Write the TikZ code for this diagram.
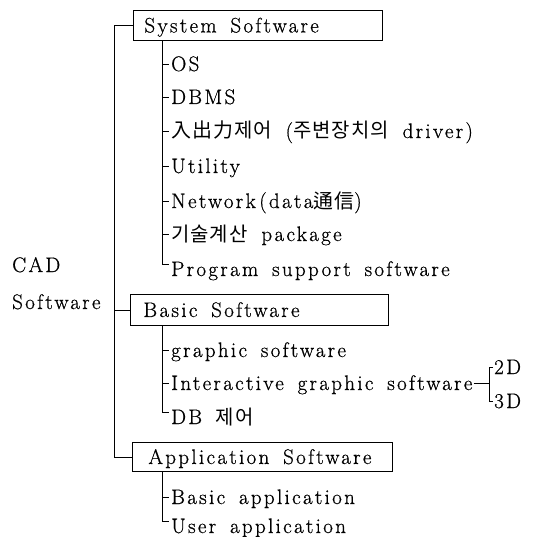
\documentclass[tikz,border=0pt]{standalone}
\usepackage{fontspec}
\setmainfont{Latin Modern Roman}[LetterSpace=11,WordSpace=1.6,FakeBold=0.7]
\newfontfamily\kr{Noto Sans CJK KR}[LetterSpace=5,Scale=0.95]
\begin{document}
\begin{tikzpicture}[x=1pt,y=-1pt,
  every node/.style={inner sep=0pt, font=\fontsize{21}{24}\selectfont},
  item/.style={anchor=west, text height=14pt, text depth=0pt},
  groupbox/.style={draw, line width=0.9pt, anchor=north west, inner xsep=11pt,
    text height=14pt, text depth=0pt},
  link/.style={line width=0.8pt},
]
\useasboundingbox (0,0) rectangle (532,537);

% trunk and branch columns
\coordinate (trunk) at (114,0);
\coordinate (sub) at (162,0);
\coordinate (br) at (489,383);

% root label
\node[item] (cadA) at (12,265) {CAD};
\node[item] (cadB) at (12,302) {Software};

% group boxes (text set flush left inside a fixed width)
\node[groupbox, minimum height=30pt] (sys) at (133,10) {\makebox[227pt][l]{System Software}};
\node[groupbox, minimum height=31pt, inner xsep=13pt] (basic) at (130,294) {\makebox[232pt][l]{Basic Software}};
\node[groupbox, minimum height=29pt, inner xsep=16pt] (app) at (132,442) {\makebox[228pt][l]{Application Software}};

% system software items
\node[item] (os)   at (171,64)  {OS};
\node[item] (dbms) at (171,97)  {DBMS};
\node[item] (io)   at (171,131) {{\kr 入出力제어} ({\kr 주변장치의} driver)};
\node[item] (util) at (171,166) {Utility};
\node[item] (net)  at (171,201) {Network\,(data{\kr 通信})};
\node[item] (calc) at (171,234) {{\kr 기술계산} package};
\node[item] (prog) at (171,269) {Program support software};

% basic software items
\node[item] (graphic) at (171,350) {graphic software};
\node[item] (inter)   at (171,383) {Interactive graphic software};
\node[item] (dbc)     at (171,417) {DB {\kr 제어}};
\node[item] (d2) at (494,367) {2D};
\node[item] (d3) at (494,401) {3D};

% application software items
\node[item] (bapp) at (171,497) {Basic application};
\node[item] (uapp) at (171,526) {User application};

% trunk
\draw[link] (sys.west) -- (sys.west -| trunk) -- (app.west -| trunk) -- (app.west);
\draw[link] (basic.west) -- (basic.west -| trunk);

% system branch
\draw[link] (sys.south -| sub) -- ([yshift=5pt]prog.west -| sub) -- ([yshift=5pt,xshift=-2pt]prog.west);
\foreach \n in {os,dbms,io,util,net,calc}
  \draw[link] (\n.west -| sub) -- ([xshift=-2pt]\n.west);

% basic branch
\draw[link] (basic.south -| sub) -- ([yshift=5pt]dbc.west -| sub) -- ([yshift=5pt,xshift=-2pt]dbc.west);
\foreach \n in {graphic,inter}
  \draw[link] (\n.west -| sub) -- ([xshift=-2pt]\n.west);
\draw[link] ([xshift=1pt]inter.east) -- (br);
\draw[link] ([xshift=-1pt]d2.west) -- (d2.west -| br) -- (d3.west -| br) -- ([xshift=-1pt]d3.west);

% application branch
\draw[link] (app.south -| sub) -- ([yshift=5pt]uapp.west -| sub) -- ([yshift=5pt,xshift=-2pt]uapp.west);
\draw[link] (bapp.west -| sub) -- ([xshift=-2pt]bapp.west);
\end{tikzpicture}
\end{document}
